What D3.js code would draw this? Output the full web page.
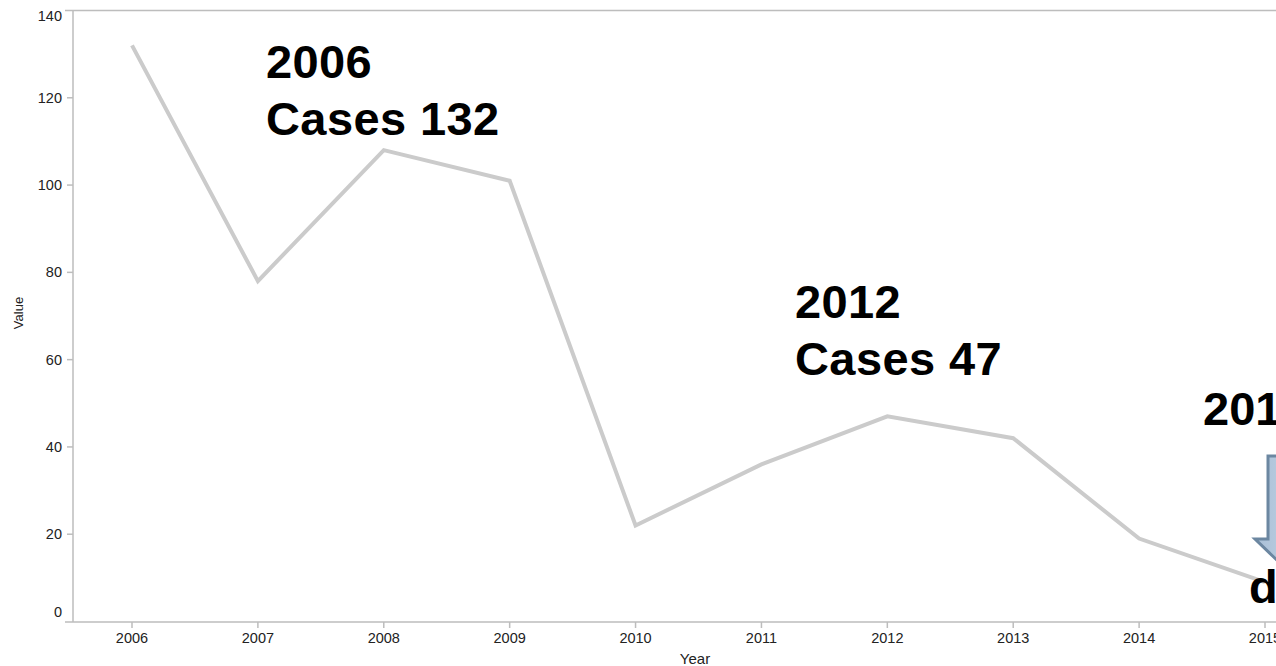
<!DOCTYPE html>
<html>
<head>
<meta charset="utf-8">
<script src="https://cdn.jsdelivr.net/npm/d3@7"></script>
<style>
  html, body { margin: 0; padding: 0; background: #fff; overflow: hidden; }
  svg { display: block; font-family: "Liberation Sans", Arial, sans-serif; }
</style>
</head>
<body>
<svg id="chart" width="1276" height="666"></svg>
<script>
// Yearly case counts
const years = [2006, 2007, 2008, 2009, 2010, 2011, 2012, 2013, 2014, 2015];
const cases = [132, 78, 108, 101, 22, 36, 47, 42, 19, 9];
const yTicks = [0, 20, 40, 60, 80, 100, 120, 140];

// Callout annotations (year, text lines)
const notes = [
  { year: 2006, lines: ["2006", "Cases 132"] },
  { year: 2012, lines: ["2012", "Cases 47"] }
];

const W = 1276, H = 666;
const svg = d3.select("#chart");

const x = d3.scalePoint().domain(years).range([132, 1265]);
const y = d3.scaleLinear().domain([0, 140]).range([621.5, 10.5]);

const axisColor = "#bdbdbd";
const textColor = "#222";

// frame: top rule, y axis and x axis
svg.append("line").attr("x1", 65).attr("x2", W).attr("y1", 10.5).attr("y2", 10.5)
  .attr("stroke", axisColor).attr("stroke-width", 1.5);
svg.append("line").attr("x1", 73).attr("x2", 73).attr("y1", 10.5).attr("y2", 622)
  .attr("stroke", axisColor).attr("stroke-width", 1.5);
svg.append("line").attr("x1", 65).attr("x2", W).attr("y1", 622).attr("y2", 622)
  .attr("stroke", axisColor).attr("stroke-width", 1.5);

// y axis ticks and labels
const yAxis = svg.append("g");
yAxis.selectAll("line").data(yTicks.filter(d => d > 0 && d < 140)).join("line")
  .attr("x1", 67).attr("x2", 73)
  .attr("y1", d => y(d)).attr("y2", d => y(d))
  .attr("stroke", axisColor).attr("stroke-width", 1.5);
yAxis.selectAll("text").data(yTicks).join("text")
  .attr("x", 62)
  .attr("y", d => d === 140 ? y(d) + 5.5 : d === 0 ? y(d) - 10 : y(d))
  .attr("dy", "0.35em")
  .attr("text-anchor", "end")
  .attr("font-size", 14.5)
  .attr("fill", textColor)
  .text(d => d);

// x axis ticks and labels
const xAxis = svg.append("g");
xAxis.selectAll("line").data(years).join("line")
  .attr("x1", d => x(d)).attr("x2", d => x(d))
  .attr("y1", 622).attr("y2", 628)
  .attr("stroke", axisColor).attr("stroke-width", 1.5);
xAxis.selectAll("text").data(years).join("text")
  .attr("x", d => x(d)).attr("y", 642.5)
  .attr("text-anchor", "middle")
  .attr("font-size", 14.5)
  .attr("fill", textColor)
  .text(d => d);

// axis titles
svg.append("text").attr("x", 695).attr("y", 663.5)
  .attr("text-anchor", "middle").attr("font-size", 15).attr("fill", textColor)
  .text("Year");
svg.append("text")
  .attr("transform", "translate(23,313) rotate(-90)")
  .attr("text-anchor", "middle").attr("font-size", 13).attr("fill", textColor)
  .text("Value");

// the series line
const line = d3.line().x((d, i) => x(years[i])).y(d => y(d));
svg.append("path").datum(cases)
  .attr("d", line)
  .attr("fill", "none")
  .attr("stroke", "#cbcbcb")
  .attr("stroke-width", 4)
  .attr("stroke-linejoin", "miter");

// callouts
const noteX = { 2006: 266, 2012: 795 };
const noteY = { 2006: 78, 2012: 318 };
notes.forEach(n => {
  const t = svg.append("text")
    .attr("x", noteX[n.year]).attr("y", noteY[n.year])
    .attr("font-size", 47).attr("font-weight", "bold").attr("fill", "#000")
    .attr("letter-spacing", 0.4);
  n.lines.forEach((s, i) => {
    t.append("tspan").attr("x", noteX[n.year]).attr("dy", i === 0 ? 0 : 57).text(s);
  });
});

// 2015 callout running off the right edge, with a down arrow
const last = years.length - 1;
svg.append("text").attr("x", 1203).attr("y", 425)
  .attr("font-size", 47).attr("font-weight", "bold").attr("fill", "#000")
  .text(String(years[last]));

const grad = svg.append("defs").append("linearGradient")
  .attr("id", "arrowFill").attr("x1", 0).attr("x2", 1).attr("y1", 0).attr("y2", 0);
grad.append("stop").attr("offset", "0%").attr("stop-color", "#a9bfd6");
grad.append("stop").attr("offset", "100%").attr("stop-color", "#c6d7e8");

svg.append("path")
  .attr("d", "M1268,456 L1298,456 L1298,539 L1310,539 L1283,566 L1255,539 L1268,539 Z")
  .attr("fill", "url(#arrowFill)")
  .attr("stroke", "#6c87a1")
  .attr("stroke-width", 3)
  .attr("stroke-linejoin", "miter");

svg.append("text").attr("x", 1249).attr("y", 603)
  .attr("font-size", 47).attr("font-weight", "bold").attr("fill", "#000")
  .text("d");
</script>
</body>
</html>
